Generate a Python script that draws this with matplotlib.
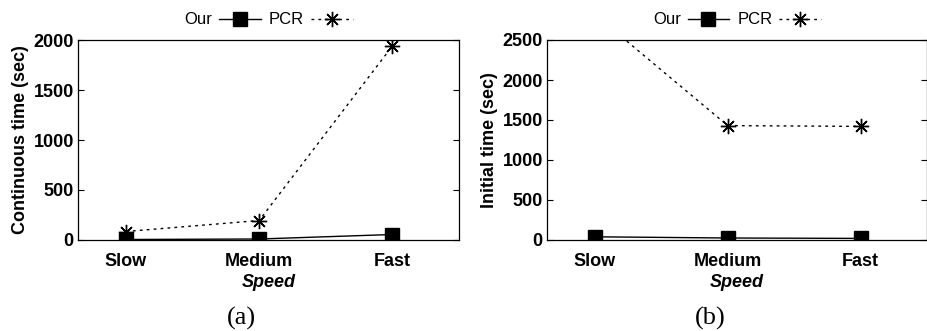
import matplotlib.pyplot as plt

speeds = ['Slow', 'Medium', 'Fast']
# (a) continuous time
cont_our = [5, 10, 55]
cont_pcr = [85, 195, 1940]
# (b) initial time
init_our = [40, 25, 20]
init_pcr = [2820, 1430, 1420]

plt.rcParams['font.family'] = ['Liberation Sans', 'DejaVu Sans']

fig = plt.figure(figsize=(9.28, 3.31), dpi=100)
ax_a = fig.add_axes([78 / 928, 91 / 331, 381 / 928, 200 / 331])
ax_b = fig.add_axes([547 / 928, 91 / 331, 380 / 928, 200 / 331])

star = (8, 2, 0)


def draw(ax, our, pcr, ylim, yticks, ylabel, tag):
    x = range(len(speeds))
    ax.plot(x, our, color='black', lw=1.0, marker='s', ms=10, label='Our')
    ax.plot(x, pcr, color='black', lw=1.0, ls=(0, (2, 3)), marker=star,
            ms=11, mew=1.0, label='PCR')
    ax.set_xlim(-0.36, 2.5)
    ax.set_ylim(*ylim)
    ax.set_yticks(yticks)
    ax.set_xticks(list(x))
    ax.set_xticklabels(speeds)
    ax.tick_params(axis='y', direction='in', length=4, right=True,
                   labelsize=13, pad=3)
    ax.tick_params(axis='x', length=0, labelsize=13, pad=9)
    for lab in ax.get_xticklabels() + ax.get_yticklabels():
        lab.set_fontweight('bold')
    for sp in ax.spines.values():
        sp.set_linewidth(0.9)
    ax.set_ylabel(ylabel, fontsize=13, fontweight='bold', labelpad=3)
    ax.set_xlabel('Speed', fontsize=13, fontweight='bold', style='italic',
                  labelpad=3)
    ax.legend(loc='lower center', bbox_to_anchor=(0.5, 1.03), ncol=2,
              frameon=False, markerfirst=False, fontsize=12,
              handlelength=2.5, columnspacing=0.5, handletextpad=0.4,
              borderaxespad=0.0)
    ax.text(0.43, -0.39, tag, transform=ax.transAxes, ha='center', va='center',
            fontsize=19, family='Liberation Serif')


draw(ax_a, cont_our, cont_pcr, (0, 2000), [0, 500, 1000, 1500, 2000],
     'Continuous time (sec)', '(a)')
draw(ax_b, init_our, init_pcr, (0, 2500), [0, 500, 1000, 1500, 2000, 2500],
     'Initial time (sec)', '(b)')

fig.savefig('out.png', dpi=100)
